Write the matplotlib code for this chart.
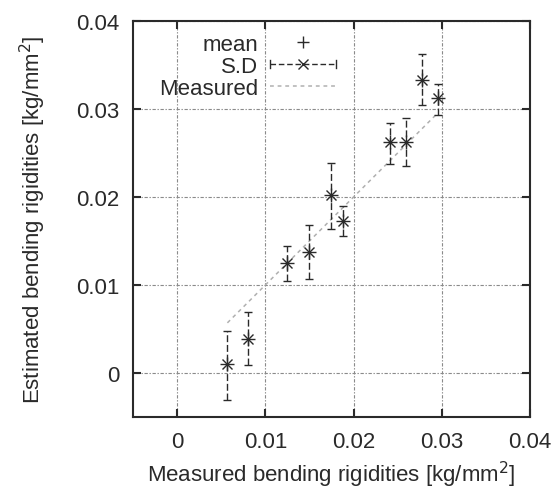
import matplotlib
matplotlib.use("Agg")
import matplotlib.pyplot as plt
from matplotlib.lines import Line2D
from matplotlib.legend_handler import HandlerBase

plt.rcParams['font.family'] = ['Liberation Sans', 'DejaVu Sans']

# Data (kg/mm^2)
measured = [0.0057, 0.0080, 0.0125, 0.0150, 0.0174, 0.0188, 0.0241, 0.0260, 0.0278, 0.0296]
est_mean = [0.0010, 0.0039, 0.0125, 0.0137, 0.0202, 0.0173, 0.0262, 0.0263, 0.0333, 0.0313]
est_upper = [0.0048, 0.0069, 0.0144, 0.0168, 0.0239, 0.0190, 0.0284, 0.0290, 0.0363, 0.0328]
est_lower = [-0.0031, 0.0009, 0.0105, 0.0107, 0.0164, 0.0156, 0.0238, 0.0235, 0.0305, 0.0293]
ticks = [0, 0.01, 0.02, 0.03, 0.04]
tick_labels = ['0', '0.01', '0.02', '0.03', '0.04']

err_lo = [m - l for m, l in zip(est_mean, est_lower)]
err_hi = [u - m for m, u in zip(est_mean, est_upper)]

fig = plt.figure(figsize=(5.55, 4.89), dpi=100)
ax = fig.add_axes([133/555, 1-418/489, (530-133)/555, (418-22)/489])

dark = '#2a2a2a'
FS = 16

# Measured line (y = x)
ax.plot(measured, measured, color='#b0b0b0', lw=1.1, ls=(0, (2.5, 2.5)), zorder=2)

# S.D error bars
eb = ax.errorbar(measured, est_mean, yerr=[err_lo, err_hi], fmt='none',
                 ecolor=dark, elinewidth=1.0, capsize=3.2, capthick=1.0, zorder=3)
for lc in eb[2]:
    lc.set_linestyle((0, (5, 2)))
ax.plot(measured, est_mean, ls='none', marker='x', ms=7.5, mew=1.0, color=dark, zorder=4)
# mean
ax.plot(measured, est_mean, ls='none', marker='+', ms=9.5, mew=1.0, color=dark, zorder=4)

ax.set_xlim(-0.005, 0.04)
ax.set_ylim(-0.005, 0.04)
ax.set_xticks(ticks)
ax.set_xticklabels(tick_labels)
ax.set_yticks(ticks)
ax.set_yticklabels(tick_labels)
ax.grid(True, color='#8a8a8a', lw=0.8, ls=(0, (1.2, 1.5, 3, 1.5)))
ax.set_axisbelow(True)
ax.tick_params(direction='in', length=6, width=1.5, top=True, right=True,
               labelsize=FS, colors=dark, pad=10)
for s in ax.spines.values():
    s.set_linewidth(1.5)
    s.set_color(dark)

ax.set_xlabel('Measured bending rigidities [kg/mm$^2$]', fontsize=FS, color=dark, labelpad=5)
ax.set_ylabel('Estimated bending rigidities [kg/mm$^2$]', fontsize=FS, color=dark, labelpad=20)


class SDHandler(HandlerBase):
    def create_artists(self, legend, orig_handle, xdescent, ydescent, width,
                       height, fontsize, trans):
        y = height / 2 - ydescent
        x0 = -xdescent
        x1 = x0 + width
        h = height * 0.28
        arts = [
            Line2D([x0, x1], [y, y], ls=(0, (4, 2)), color=dark, lw=1.0),
            Line2D([x0, x0], [y - h, y + h], color=dark, lw=1.0),
            Line2D([x1, x1], [y - h, y + h], color=dark, lw=1.0),
            Line2D([(x0 + x1) / 2], [y], marker='x', ms=7, mew=1.0, color=dark, ls='none'),
        ]
        for a in arts:
            a.set_transform(trans)
        return arts


h_mean = Line2D([], [], ls='none', marker='+', ms=9, mew=1.0, color=dark)
h_sd = Line2D([], [], color=dark)
h_meas = Line2D([], [], color='#b0b0b0', lw=1.1, ls=(0, (2.5, 2.5)))
leg = ax.legend([h_mean, h_sd, h_meas], ['mean', 'S.D', 'Measured'],
                handler_map={h_sd: SDHandler()},
                loc='upper right', bbox_to_anchor=(0.512, 0.968),
                frameon=False, markerfirst=False, fontsize=FS,
                handlelength=3.0, handletextpad=0.5, labelspacing=0.05,
                borderpad=0, borderaxespad=0)
for t in leg.get_texts():
    t.set_color(dark)

fig.savefig('out.png', dpi=100)
